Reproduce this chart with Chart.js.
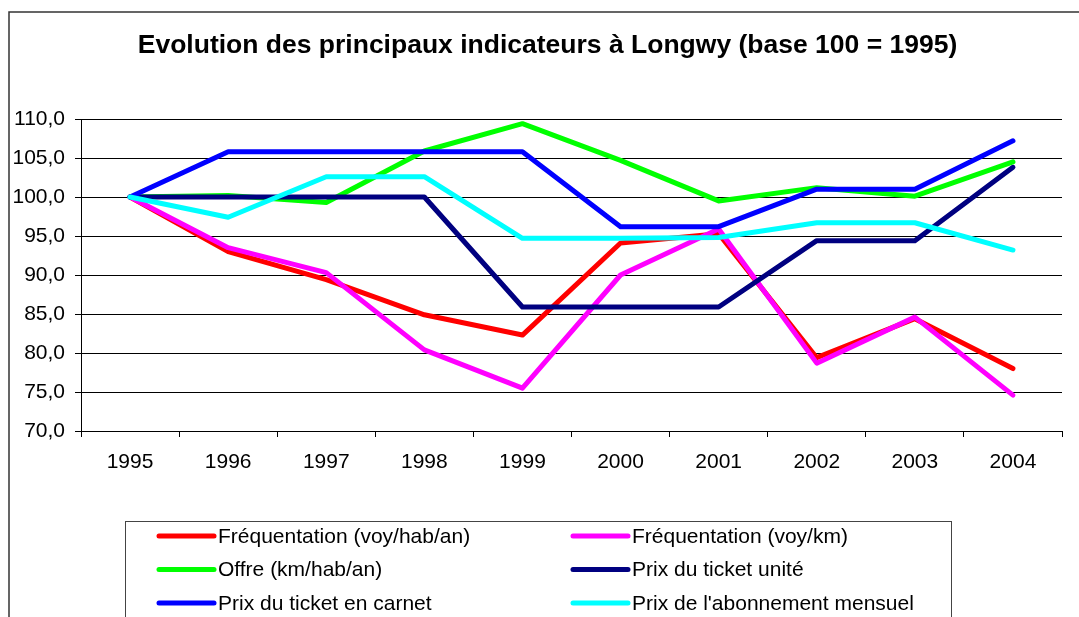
<!DOCTYPE html>
<html>
<head>
<meta charset="utf-8">
<title>Evolution des principaux indicateurs à Longwy</title>
<script src="https://cdn.jsdelivr.net/npm/chart.js@4/dist/chart.umd.min.js"></script>
<style>
    html, body { margin: 0; padding: 0; background: #fff; }
    #wrap { width: 1079px; height: 617px; }
</style>
</head>
<body>
<div id="wrap"><canvas id="chart" width="1079" height="617"></canvas></div>
<script>
// ---- Données (base 100 = 1995) ----
const chartTitle = "Evolution des principaux indicateurs à Longwy (base 100 = 1995)";
const years = ["1995", "1996", "1997", "1998", "1999", "2000", "2001", "2002", "2003", "2004"];

const frequentationHab = [100, 93.0, 89.4, 84.9, 82.3, 94.1, 95.3, 79.4, 84.4, 78.0];
const frequentationKm = [100, 93.5, 90.3, 80.4, 75.5, 90.0, 95.9, 78.7, 84.6, 74.6];
const offre = [100, 100.2, 99.3, 105.9, 109.4, 104.7, 99.5, 101.2, 100.1, 104.5];
const prixUnite = [100, 100, 100, 100, 85.9, 85.9, 85.9, 94.4, 94.4, 103.8];
const prixCarnet = [100, 105.8, 105.8, 105.8, 105.8, 96.2, 96.2, 101.0, 101.0, 107.2];
const prixAbonnement = [100, 97.4, 102.6, 102.6, 94.7, 94.7, 94.8, 96.7, 96.7, 93.2];

const seriesLabels = [
    "Fréquentation (voy/hab/an)",
    "Fréquentation (voy/km)",
    "Offre (km/hab/an)",
    "Prix du ticket unité",
    "Prix du ticket en carnet",
    "Prix de l'abonnement mensuel"
];
const seriesValues = [frequentationHab, frequentationKm, offre, prixUnite, prixCarnet, prixAbonnement];
const seriesColors = ["#ff0000", "#ff00ff", "#00ff00", "#000080", "#0000ff", "#00ffff"];

const yMin = 70;
const yMax = 110;
const yStep = 5;

const FONT = "Arial, 'Liberation Sans', sans-serif";

// cadre extérieur, titre et légende dessinés à la main (légende en 2 colonnes, encadrée)
const frameAndLegend = {
    id: "frameAndLegend",
    beforeDraw(chart) {
        const ctx = chart.ctx;
        ctx.save();
        ctx.fillStyle = "#ffffff";
        ctx.fillRect(0, 0, chart.width, chart.height);
        ctx.restore();
    },
    afterDraw(chart) {
        const ctx = chart.ctx;
        ctx.save();

        // bordure du graphique
        ctx.strokeStyle = "#333";
        ctx.lineWidth = 1.5;
        ctx.strokeRect(9, 12, chart.width + 20, chart.height + 20);

        // titre
        ctx.fillStyle = "#000";
        ctx.font = "bold 26.5px " + FONT;
        ctx.textAlign = "center";
        ctx.textBaseline = "middle";
        ctx.fillText(chartTitle, 547.5, 46);

        // boîte de légende
        ctx.strokeStyle = "#444";
        ctx.lineWidth = 1;
        ctx.strokeRect(125.5, 521.5, 826, 200);

        ctx.font = "21px " + FONT;
        ctx.textBaseline = "middle";
        ctx.textAlign = "left";
        ctx.lineCap = "round";
        ctx.lineWidth = 5;

        chart.data.datasets.forEach(function (ds, i) {
            const col = i % 2;
            const row = Math.floor(i / 2);
            const x0 = col === 0 ? 159 : 573;
            const y = 536 + row * 33.5;
            ctx.strokeStyle = ds.borderColor;
            ctx.beginPath();
            ctx.moveTo(x0, y);
            ctx.lineTo(x0 + 55, y);
            ctx.stroke();
            ctx.fillStyle = "#000";
            ctx.fillText(ds.label, x0 + 59, y + 1);
        });

        ctx.restore();
    }
};

const datasets = seriesLabels.map(function (label, i) {
    return {
        label: label,
        data: seriesValues[i],
        borderColor: seriesColors[i],
        backgroundColor: seriesColors[i],
        borderWidth: 5,
        pointRadius: 0,
        pointHoverRadius: 0,
        tension: 0,
        fill: false,
        borderCapStyle: "round",
        borderJoinStyle: "round",
        order: seriesLabels.length - i   // dernière série dessinée au-dessus
    };
});

new Chart(document.getElementById("chart").getContext("2d"), {
    type: "line",
    data: {
        labels: years,
        datasets: datasets
    },
    plugins: [frameAndLegend],
    options: {
        responsive: false,
        animation: false,
        devicePixelRatio: 1,
        layout: {
            padding: { top: 119, left: 0, right: 17, bottom: 0 }
        },
        plugins: {
            legend: { display: false },
            tooltip: { enabled: false },
            title: { display: false }
        },
        scales: {
            x: {
                offset: true,
                grid: {
                    display: true,
                    drawOnChartArea: false,
                    drawTicks: true,
                    tickLength: 6,
                    offset: true,
                    color: "#000"
                },
                border: { display: true, color: "#000", width: 1 },
                ticks: {
                    color: "#000",
                    padding: 13,
                    maxRotation: 0,
                    autoSkip: false,
                    font: { family: FONT, size: 21 }
                },
                afterFit: function (scale) {
                    scale.height = 186;
                }
            },
            y: {
                min: yMin,
                max: yMax,
                grid: {
                    color: "#000",
                    tickLength: 6,
                    drawTicks: true
                },
                border: { display: true, color: "#000", width: 1 },
                ticks: {
                    stepSize: yStep,
                    color: "#000",
                    padding: 10,
                    font: { family: FONT, size: 21 },
                    callback: function (v) {
                        return v.toFixed(1).replace(".", ",");
                    }
                },
                afterFit: function (scale) {
                    scale.width = 81;
                }
            }
        }
    }
});
</script>
</body>
</html>
